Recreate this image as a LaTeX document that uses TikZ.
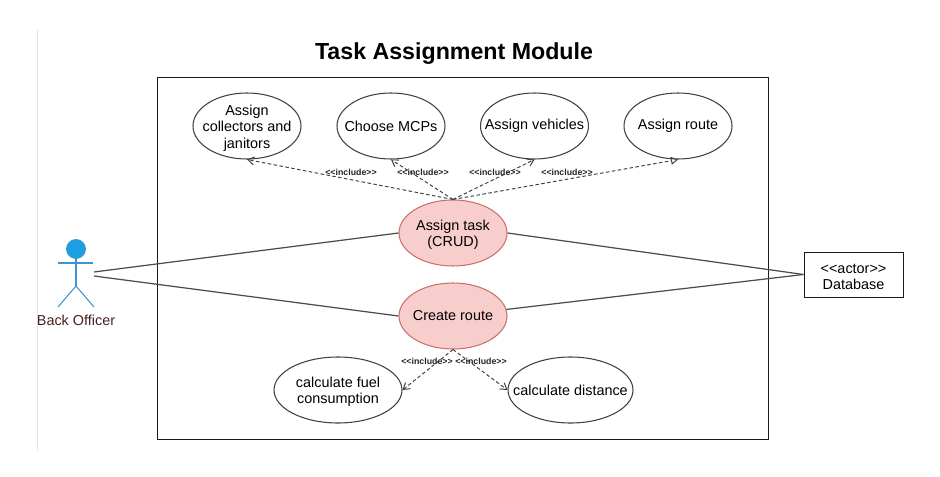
\documentclass[tikz,border=0pt]{standalone}
\usepackage{fontspec}
\setmainfont{Liberation Sans}
\usetikzlibrary{shapes.geometric, arrows.meta}
\definecolor{actorblue}{HTML}{1BA1E2}
\definecolor{actorline}{HTML}{3E94CC}
\definecolor{actorname}{HTML}{4A2020}
\definecolor{taskfill}{HTML}{F8CECC}
\definecolor{taskline}{HTML}{C9706C}
\newcommand{\firstline}{\rule{0pt}{8.4pt}}
\tikzset{
    usecase/.style={draw=black!75, ellipse, fill=white, line width=0.6pt, minimum width=2.16cm, minimum height=1.32cm, inner sep=-10pt, align=center, font=\fontsize{8.2}{9.2}\selectfont},
    mainuse/.style={usecase, draw=taskline, fill=taskfill},
    incl/.style={dash pattern=on 2pt off 1.4pt, line width=0.55pt, black!75, -{Straight Barb[length=3.5pt,width=4.5pt]}},
    incltri/.style={dash pattern=on 2pt off 1.4pt, line width=0.55pt, black!75, -{Triangle[open,length=4pt,width=4.5pt]}},
    incllabel/.style={font=\fontsize{5}{6}\selectfont\bfseries, inner sep=0pt, text=black!85},
    assoc/.style={line width=0.7pt, black!70},
    stick/.style={line width=0.6pt, actorline}
}
\begin{document}
\begin{tikzpicture}
    \useasboundingbox (0,0) rectangle (18.8,9.52);
    \fill[white] (0,0) rectangle (18.8,9.52);
    \draw[black!10, line width=0.5pt] (0.75,0.52)--(0.75,8.92);
    \node[font=\fontsize{13.2}{14}\selectfont\bfseries] (title) at (9.08,8.44) {Task Assignment Module};
    \draw[line width=0.55pt, black!90] (3.14,0.74) rectangle (15.36,7.98);
    % use cases
    \node[usecase] (collectors) at (4.94,7) {\firstline Assign\\collectors and\\janitors};
    \node[usecase] (mcps) at (7.82,7) {Choose MCPs};
    \node[usecase] (vehicles) at (10.69,7) {Assign vehicles};
    \node[usecase] (route) at (13.56,7) {Assign route};
    \node[mainuse] (task) at (9.06,4.86) {\firstline Assign task\\(CRUD)};
    \node[mainuse] (create) at (9.06,3.2) {Create route};
    \node[usecase, minimum width=2.56cm] (fuel) at (6.76,1.72) {\firstline calculate fuel\\consumption};
    \node[usecase, minimum width=2.5cm] (distance) at (11.41,1.72) {calculate distance};
    \node[draw=black!90, line width=0.55pt, minimum width=1.98cm, minimum height=0.9cm, inner sep=0pt, align=center, font=\fontsize{8.2}{9.2}\selectfont] (db) at (17.07,4.03) {\firstline <{}<actor>{}>\\Database};
    % stick figure
    \draw[stick] (1.16,4.26)--(1.86,4.26);
    \draw[stick] (1.52,4.4)--(1.52,3.8);
    \draw[stick] (1.16,3.38)--(1.52,3.8)--(1.88,3.38);
    \node[circle, draw=actorline, fill=actorblue, line width=0.5pt, minimum size=0.38cm, inner sep=0pt] (head) at (1.52,4.54) {};
    \node[font=\fontsize{8.2}{9.2}\selectfont, text=actorname] (officer) at (1.52,3.12) {Back Officer};
    \coordinate (officerA) at (1.88,4.08);
    \coordinate (officerB) at (1.88,4);
    % associations
    \draw[assoc] (officerA)--(task.west);
    \draw[assoc] (officerB)--(create.west);
    \draw[assoc] (db.west)--(task.east);
    \draw[assoc] (db.west)--(create.7);
    % includes
    \draw[incl] (task.north)--(collectors.south);
    \draw[incl] (task.north)--(mcps.south);
    \draw[incl] (task.north)--(vehicles.south);
    \draw[incltri] (task.north)--(route.south);
    \draw[incl] (create.south)--(fuel.east);
    \draw[incl] (create.south)--(distance.west);
    \foreach \name/\x/\y in {inclA/7.02/6.08, inclB/8.46/6.08, inclC/9.9/6.08, inclD/11.34/6.08, inclE/8.54/2.3, inclF/9.62/2.3}{
        \node[incllabel] (\name) at (\x,\y) {<{}<include>{}>};
    }
\end{tikzpicture}
\end{document}
